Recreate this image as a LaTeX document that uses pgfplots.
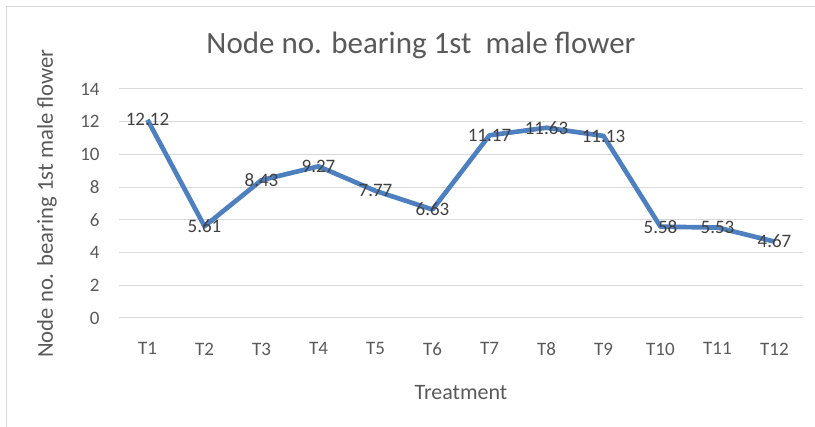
\documentclass[border=0pt]{standalone}
\usepackage{fontspec}
\setmainfont{Carlito}
\usepackage{pgfplots}
\pgfplotsset{compat=1.18}
\definecolor{linec}{HTML}{4E7FBF}
\definecolor{gridc}{HTML}{D9D9D9}
\definecolor{txtc}{HTML}{595959}
\definecolor{lblc}{HTML}{404040}
\begin{document}
\begin{tikzpicture}[x=0.75pt,y=0.75pt]
\useasboundingbox (0,0) rectangle (815,427);
\draw[gridc, line width=0.75pt] (6,0) -- (6,420) -- (815,420);
\node[anchor=base, text=txtc, font=\fontsize{23.25}{28}\selectfont] at (421,373) {Node no. bearing 1st\ \ male flower};
\begin{axis}[
  at={(89.25pt,81.75pt)}, anchor=south west,
  scale only axis, width=513pt, height=171.75pt,
  xmin=0.5, xmax=12.5, ymin=0, ymax=14,
  xtick={1,...,12},
  xticklabels={T1,T2,T3,T4,T5,T6,T7,T8,T9,T10,T11,T12},
  ytick={0,2,...,14},
  ymajorgrids, grid style={gridc, line width=0.75pt},
  axis lines=left, axis line style={draw=none},
  tick style={draw=none}, major tick length=0pt,
  /pgf/number format/assume math mode=true,
  tick label style={text=txtc, font=\fontsize{14.25}{17}\selectfont},
  yticklabel style={xshift=-11pt},
  xticklabel style={yshift=-15pt},
  xlabel={Treatment}, ylabel={Node no. bearing 1st male flower},
  label style={text=txtc, font=\fontsize{16.5}{20}\selectfont},
  xlabel style={at={(axis description cs:0.5,-0.3275)}, anchor=center},
  ylabel style={at={(axis description cs:-0.1053,0.5)}, anchor=center, font=\fontsize{17}{20}\selectfont},
  clip=false,
  nodes near coords, point meta=explicit symbolic,
  nodes near coords align={center},
  every node near coord/.append style={anchor=center, text=lblc, font=\fontsize{14.25}{17}\selectfont},
]
\addplot[linec, line width=3.5pt, line join=round, mark=none] coordinates {
 (1,12.12) [12.12]
 (2,5.61) [5.61]
 (3,8.43) [8.43]
 (4,9.27) [9.27]
 (5,7.77) [7.77]
 (6,6.63) [6.63]
 (7,11.17) [11.17]
 (8,11.63) [11.63]
 (9,11.13) [11.13]
 (10,5.58) [5.58]
 (11,5.53) [5.53]
 (12,4.67) [4.67]
};
\end{axis}
\end{tikzpicture}
\end{document}
